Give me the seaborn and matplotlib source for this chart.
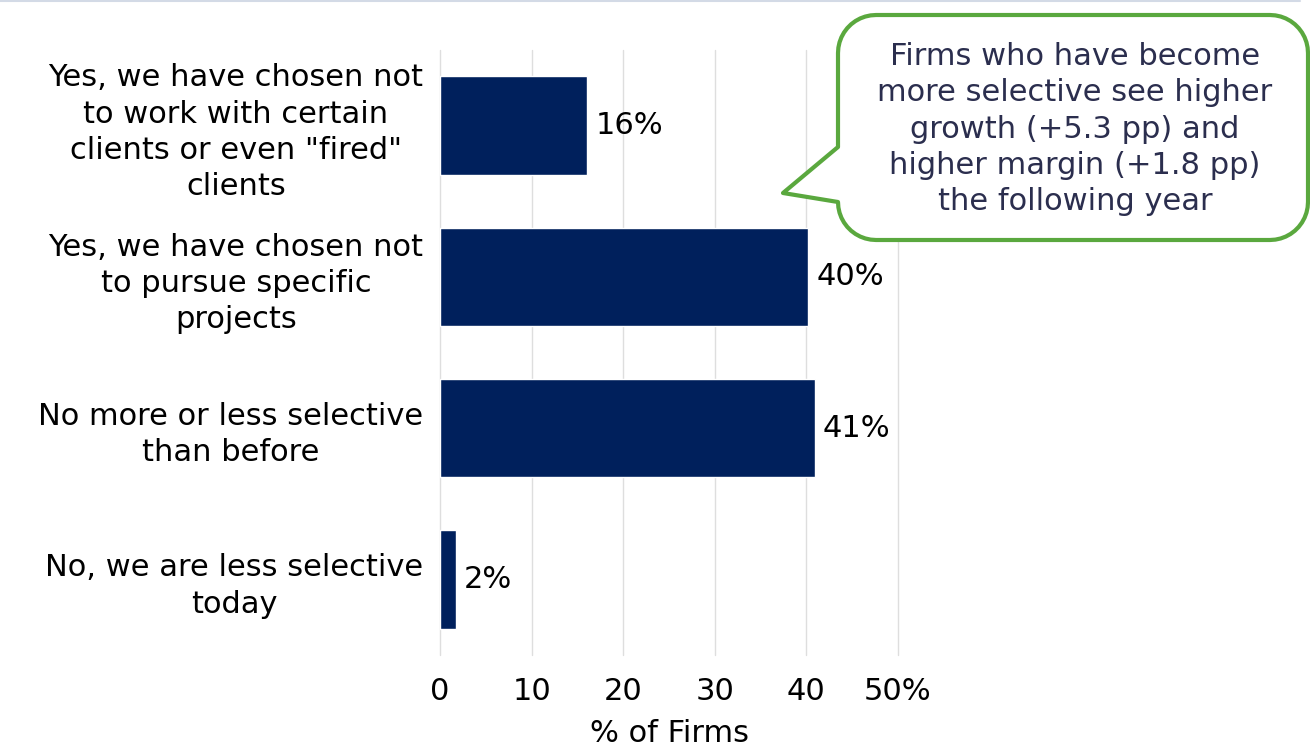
import numpy as np
import matplotlib
matplotlib.use("Agg")
import matplotlib.pyplot as plt
from matplotlib.path import Path
from matplotlib.patches import PathPatch
from matplotlib.lines import Line2D
import seaborn as sns
import pandas as pd

categories = [
    'Yes, we have chosen not\nto work with certain\nclients or even "fired"\nclients',
    'Yes, we have chosen not\nto pursue specific\nprojects',
    'No more or less selective\nthan before',
    'No, we are less selective\ntoday',
]
values = [16.1, 40.2, 40.9, 1.7]
value_labels = ["16%", "40%", "41%", "2%"]
xticks = [0, 10, 20, 30, 40, 50]
xtick_labels = ["0", "10", "20", "30", "40", "50%"]
callout_text = ("Firms who have become\nmore selective see higher\ngrowth (+5.3 pp) and\n"
                "higher margin (+1.8 pp)\nthe following year")

sns.set_theme(style="white")
plt.rcParams['font.family'] = ['DejaVu Sans']
FS = 22
LS = 1.32

W, H = 1310, 750
fig = plt.figure(figsize=(W / 100, H / 100), dpi=100)
ax = fig.add_axes([440 / W, 1 - 655 / H, (898 - 440) / W, (655 - 50) / H])

df = pd.DataFrame({"cat": categories, "val": values})
sns.barplot(data=df, x="val", y="cat", color="#00205c", saturation=1, width=0.65, ax=ax)

ax.set_xlim(0, 50)
ax.set_ylim(3.5, -0.5)
ax.set_xticks(xticks)
ax.set_xticklabels(xtick_labels, fontsize=FS, color="black")
ax.tick_params(axis="y", labelsize=FS, pad=12, length=0, labelcolor="black")
ax.tick_params(axis="x", length=0, pad=16)
for lab in ax.get_yticklabels():
    lab.set_horizontalalignment("right")
    lab.set_multialignment("center")
    lab.set_linespacing(LS)
ax.set_ylabel("")
ax.set_xlabel("% of Firms", fontsize=FS, color="black", labelpad=9)
ax.grid(axis="x", color="#dedede", linewidth=1)
for gl in ax.get_xgridlines():
    gl.set_clip_on(False)
ax.set_axisbelow(True)
for s in ax.spines.values():
    s.set_visible(False)

for i, (v, t) in enumerate(zip(values, value_labels)):
    ax.text(v + 0.9, i, t, va="center", ha="left", fontsize=FS, color="black")

# top line
fig.add_artist(Line2D([0, 1300 / W], [1 - 1 / H, 1 - 1 / H], color="#d3dae6", linewidth=1.5))

# callout bubble (pixel coords -> figure coords)
x0, x1, y0, y1, r = 838, 1308, 15, 240, 38
def arc(cx, cy, a0, a1, n=12):
    a = np.linspace(np.radians(a0), np.radians(a1), n)
    return [(cx + r * np.cos(t), cy + r * np.sin(t)) for t in a]
pts = []
pts += arc(x0 + r, y0 + r, 180, 270)          # top-left
pts += arc(x1 - r, y0 + r, 270, 360)          # top-right
pts += arc(x1 - r, y1 - r, 0, 90)             # bottom-right
pts += arc(x0 + r, y1 - r, 90, 180)           # bottom-left
pts += [(x0, 202), (783, 193), (x0, 147)]
pts.append(pts[0])
fpts = [(px / W, 1 - py / H) for px, py in pts]
codes = [Path.MOVETO] + [Path.LINETO] * (len(fpts) - 2) + [Path.CLOSEPOLY]
patch = PathPatch(Path(fpts, codes), facecolor="white", edgecolor="#5aa83e",
                  linewidth=3, transform=fig.transFigure, joinstyle="round")
fig.add_artist(patch)
fig.text(1075 / W, 1 - 129 / H, callout_text, ha="center", va="center",
         fontsize=FS, color="#2b2e4e", linespacing=LS)

fig.savefig("out.png", dpi=100)
